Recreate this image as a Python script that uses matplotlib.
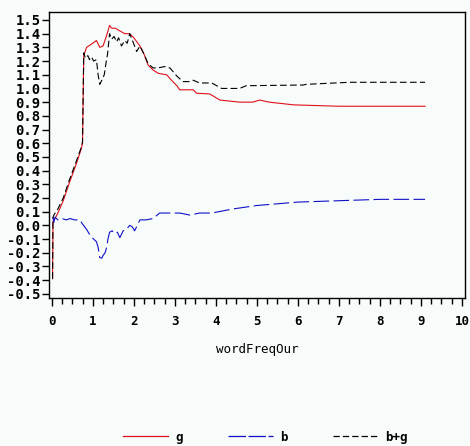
import matplotlib.pyplot as plt
from matplotlib.lines import Line2D
from matplotlib.ticker import MultipleLocator

# values
g_x = [0.02, 0.03, 0.06, 0.15, 0.28, 0.36, 0.44, 0.6, 0.72, 0.75, 0.78, 0.85, 0.95,
       1.09, 1.17, 1.25, 1.33, 1.41, 1.46, 1.55, 1.66, 1.78, 1.9, 2.0, 2.15, 2.25,
       2.35, 2.47, 2.6, 2.8, 2.92, 3.05, 3.12, 3.3, 3.45, 3.53, 3.85, 4.1, 4.58,
       4.9, 5.07, 5.3, 5.9, 7.0, 9.1]
g_y = [-0.39, 0.03, 0.04, 0.09, 0.18, 0.25, 0.32, 0.45, 0.56, 0.6, 1.24, 1.3, 1.32,
       1.35, 1.3, 1.31, 1.38, 1.46, 1.44, 1.44, 1.42, 1.4, 1.4, 1.37, 1.31, 1.25,
       1.17, 1.135, 1.11, 1.1, 1.06, 1.02, 0.99, 0.99, 0.99, 0.965, 0.96, 0.915, 0.9,
       0.9, 0.915, 0.9, 0.88, 0.87, 0.87]

b_x = [0.03, 0.05, 0.08, 0.15, 0.25, 0.35, 0.45, 0.55, 0.68, 0.75, 0.85, 0.95, 1.02,
       1.09, 1.13, 1.17, 1.22, 1.25, 1.3, 1.33, 1.37, 1.41, 1.47, 1.54, 1.6, 1.66,
       1.74, 1.82, 1.9, 1.96, 2.02, 2.1, 2.15, 2.3, 2.47, 2.63, 2.9, 3.12, 3.37, 3.6,
       3.9, 4.42, 5.0, 6.0, 7.0, 8.0, 9.1]
b_y = [0.06, 0.02, 0.06, 0.04, 0.05, 0.04, 0.05, 0.04, 0.04, 0.01, -0.03, -0.08, -0.1,
       -0.12, -0.16, -0.235, -0.24, -0.22, -0.2, -0.17, -0.1, -0.05, -0.04, -0.06,
       -0.05, -0.09, -0.04, -0.03, 0.0, -0.01, -0.04, 0.01, 0.04, 0.04, 0.05, 0.09,
       0.09, 0.09, 0.075, 0.09, 0.09, 0.12, 0.145, 0.17, 0.18, 0.19, 0.19]

bg_x = [0.02, 0.03, 0.06, 0.15, 0.28, 0.44, 0.6, 0.72, 0.75, 0.78, 0.82, 0.88, 0.92,
        0.97, 1.02, 1.09, 1.13, 1.17, 1.22, 1.28, 1.33, 1.36, 1.41, 1.46, 1.52, 1.58,
        1.63, 1.7, 1.78, 1.84, 1.9, 1.98, 2.07, 2.15, 2.25, 2.35, 2.47, 2.6, 2.75,
        2.88, 3.05, 3.2, 3.35, 3.45, 3.6, 3.9, 4.14, 4.58, 4.74, 6.13, 6.2, 7.27, 9.1]
bg_y = [-0.39, 0.06, 0.08, 0.12, 0.2, 0.34, 0.47, 0.57, 0.61, 1.26, 1.22, 1.24, 1.21,
        1.23, 1.2, 1.21, 1.1, 1.03, 1.06, 1.1, 1.2, 1.25, 1.4, 1.36, 1.38, 1.34,
        1.37, 1.31, 1.35, 1.33, 1.4, 1.34, 1.27, 1.31, 1.25, 1.18, 1.15, 1.15, 1.16,
        1.15, 1.09, 1.05, 1.05, 1.06, 1.04, 1.04, 1.0, 1.0, 1.02, 1.025, 1.03, 1.045,
        1.045]

bgcol = '#f7fbf9'
plt.rcParams['font.family'] = 'DejaVu Sans Mono'
plt.rcParams['font.weight'] = 'bold'

fig = plt.figure(figsize=(4.7, 4.46), dpi=100, facecolor=bgcol)
ax = fig.add_axes([0.104, 0.332, 0.885, 0.641], facecolor=bgcol)

ax.plot(g_x, g_y, color='#e0101a', lw=0.8)
ax.plot(b_x, b_y, color='#1010c8', lw=0.8, dashes=(14, 4))
ax.plot(bg_x, bg_y, color='black', lw=0.8, dashes=(6, 3))

ax.set_xlim(-0.07, 10.07)
ax.set_ylim(-0.53, 1.558)
ax.xaxis.set_major_locator(MultipleLocator(1))
ax.xaxis.set_minor_locator(MultipleLocator(0.25))
ax.yaxis.set_major_locator(MultipleLocator(0.1))
ax.yaxis.set_major_formatter(plt.FuncFormatter(lambda v, p: '%.1f' % v))
ax.tick_params(axis='x', which='major', length=6, width=1, pad=6, labelsize=9)
ax.tick_params(axis='x', which='minor', length=4, width=1)
ax.tick_params(axis='y', length=5, width=1, pad=1, labelsize=10)
for s in ax.spines.values():
    s.set_linewidth(1)

ax.set_xlabel('wordFreqOur', fontsize=9, labelpad=11)

handles = [Line2D([], [], color='#e0101a', lw=0.9),
           Line2D([], [], color='#1010c8', lw=0.9, dashes=(14, 2)),
           Line2D([], [], color='black', lw=0.9, dashes=(5, 2.5))]
fig.legend(handles, ['g', 'b', 'b+g'], loc='lower center', ncol=3, frameon=False,
           bbox_to_anchor=(0.565, -0.02), handlelength=3.6, columnspacing=3.6,
           fontsize=9, handletextpad=0.6)

plt.savefig('out.png', dpi=100, facecolor=bgcol)
